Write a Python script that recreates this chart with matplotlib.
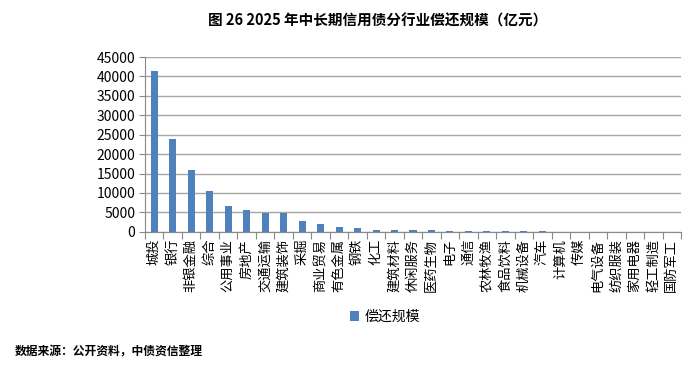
import matplotlib
matplotlib.use("Agg")
import matplotlib.pyplot as plt
import numpy as np

plt.rcParams['font.family'] = ['Noto Sans CJK SC', 'DejaVu Sans']

categories = ["城投", "银行", "非银金融", "综合", "公用事业", "房地产", "交通运输", "建筑装饰",
              "采掘", "商业贸易", "有色金属", "钢铁", "化工", "建筑材料", "休闲服务", "医药生物",
              "电子", "通信", "农林牧渔", "食品饮料", "机械设备", "汽车", "计算机", "传媒",
              "电气设备", "纺织服装", "家用电器", "轻工制造", "国防军工"]
values = [41400, 23900, 15950, 10550, 6750, 5750, 4900, 4850,
          2900, 2000, 1150, 1100, 550, 480, 420, 380,
          300, 280, 260, 240, 230, 200, 60, 40,
          20, 15, 10, 10, 5]
series_name = "偿还规模"
title = "图 26 2025 年中长期信用债分行业偿还规模（亿元）"
source = "数据来源：公开资料，中债资信整理"

fig = plt.figure(figsize=(7.0, 3.68), dpi=100)
ax = fig.add_axes([0.207, 0.370, 0.766, 0.475])

x = np.arange(len(categories))
bars = ax.bar(x, values, width=0.38, color="#4f81bd", label=series_name, zorder=3)

ax.set_xlim(-0.5, len(categories) - 0.5)
ax.set_ylim(0, 45000)
ax.set_yticks(np.arange(0, 45001, 5000))
ax.tick_params(axis='y', labelsize=10, length=4, color="#888888", pad=3)
ax.grid(axis='y', color="#a6a6a6", linewidth=1.0, zorder=0)

# boundary ticks (major) and labels centered (minor)
ax.set_xticks(np.arange(-0.5, len(categories), 1.0))
ax.set_xticklabels([])
ax.tick_params(axis='x', which='major', length=5, color="#888888")
ax.set_xticks(x, minor=True)
ax.set_xticklabels(categories, minor=True, fontsize=9.5, rotation=90,
                   ha='center', va='top')
ax.tick_params(axis='x', which='minor', length=0, pad=5)

for s in ['top', 'right']:
    ax.spines[s].set_visible(False)
ax.spines['left'].set_color("#888888")
ax.spines['bottom'].set_color("#888888")

fig.text(0.54, 0.945, title, ha='center', va='center', fontsize=10.5, fontweight='bold')
leg = fig.legend(handles=[bars], labels=[series_name], loc='center', bbox_to_anchor=(0.55, 0.138),
                 frameon=False, fontsize=10, handlelength=0.7, handleheight=0.7, handletextpad=0.4)
fig.text(0.021, 0.043, source, ha='left', va='center', fontsize=8.5, fontweight='bold')

fig.savefig("out.png", dpi=100)
